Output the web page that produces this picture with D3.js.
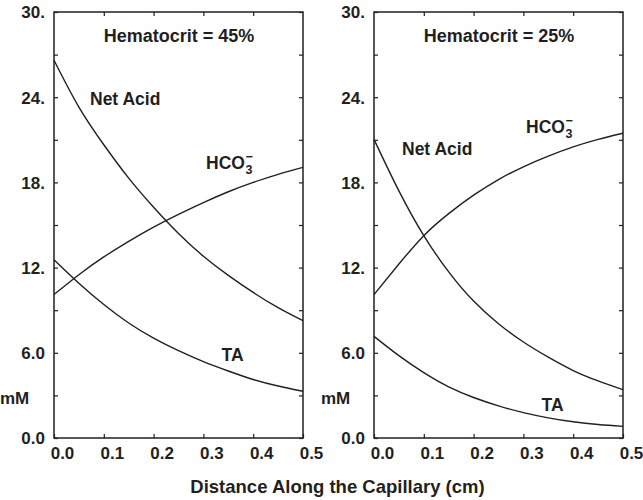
<!DOCTYPE html>
<html>
<head>
<meta charset="utf-8">
<script src="https://cdn.jsdelivr.net/npm/d3@7"></script>
<style>
  html, body { margin: 0; padding: 0; background: #fff; }
  svg text { font-family: "Liberation Sans", Arial, sans-serif; font-weight: bold; fill: #231f20; }
</style>
</head>
<body>
<svg id="chart" width="643" height="500"></svg>
<script>
// ---- data ----
const distance = [0, 0.05, 0.1, 0.15, 0.2, 0.25, 0.3, 0.35, 0.4, 0.45, 0.5];

const netAcid45 = [26.6, 23.3, 20.65, 18.3, 16.25, 14.4, 12.8, 11.45, 10.25, 9.18, 8.26];
const hco345    = [10.1, 11.5, 12.75, 13.85, 14.85, 15.75, 16.58, 17.34, 18.0, 18.57, 19.06];
const ta45      = [12.56, 10.9, 9.4, 8.1, 7.03, 6.15, 5.38, 4.72, 4.12, 3.66, 3.29];

const netAcid25 = [21.03, 17.4, 14.25, 11.7, 9.64, 8.05, 6.76, 5.69, 4.75, 4.02, 3.4];
const hco325    = [10.1, 12.25, 14.25, 15.8, 17.1, 18.2, 19.1, 19.85, 20.5, 21.03, 21.46];
const ta25      = [7.16, 5.8, 4.6, 3.6, 2.85, 2.26, 1.79, 1.42, 1.14, 0.95, 0.82];

const yTicks = [0, 6, 12, 18, 24, 30];
const yTickLabels = ["0.0", "6.0", "12.", "18.", "24.", "30."];
const yMinorTicks = [3, 9, 15, 21, 27];
const xTicks = [0, 0.1, 0.2, 0.3, 0.4, 0.5];
const xTickLabels = ["0.0", "0.1", "0.2", "0.3", "0.4", "0.5"];

const panelTitles = ["Hematocrit = 45%", "Hematocrit = 25%"];
const yAxisLabel = "mM";
const xAxisTitle = "Distance Along the Capillary (cm)";

// ---- layout ----
const svg = d3.select("#chart");
const ink = "#231f20";
const plotTop = 12, plotBottom = 438;

const panels = [
  { x0: 54, x1: 303, series: [netAcid45, hco345, ta45], title: panelTitles[0],
    labels: { net: [90, 105], hco: [206, 169.3], ta: [221.5, 361.3], mm: [0, 404] } },
  { x0: 374, x1: 623, series: [netAcid25, hco325, ta25], title: panelTitles[1],
    labels: { net: [402, 155], hco: [526, 133.3], ta: [541.5, 411.3], mm: [321, 404] } }
];

panels.forEach(p => {
  const x = d3.scaleLinear().domain([0, 0.5]).range([p.x0, p.x1]);
  const y = d3.scaleLinear().domain([0, 30]).range([plotBottom, plotTop]);
  const g = svg.append("g");

  const allY = yTicks.concat(yMinorTicks);
  const left = g.append("g").attr("transform", `translate(${p.x0},0)`)
    .call(d3.axisLeft(y).tickValues(yTicks).tickFormat((d, i) => yTickLabels[i])
      .tickSizeInner(-4).tickSizeOuter(0).tickPadding(9));
  left.select(".domain").remove();
  left.selectAll("text").style("font-size", "17px").attr("font-family", null).attr("dy", "0.35em");
  const leftMinor = g.append("g").attr("transform", `translate(${p.x0},0)`)
    .call(d3.axisLeft(y).tickValues(yMinorTicks).tickFormat("").tickSizeInner(-4).tickSizeOuter(0));
  leftMinor.select(".domain").remove();
  const right = g.append("g").attr("transform", `translate(${p.x1},0)`)
    .call(d3.axisRight(y).tickValues(allY).tickFormat("").tickSizeInner(-4).tickSizeOuter(0));
  right.select(".domain").remove();
  const topAx = g.append("g").attr("transform", `translate(0,${plotTop})`)
    .call(d3.axisTop(x).tickValues(xTicks.slice(1, -1)).tickFormat("").tickSizeInner(-4).tickSizeOuter(0));
  topAx.select(".domain").remove();
  const bot = g.append("g").attr("transform", `translate(0,${plotBottom})`)
    .call(d3.axisBottom(x).tickValues(xTicks).tickFormat((d, i) => xTickLabels[i])
      .tickSizeInner(-4).tickSizeOuter(0).tickPadding(9));
  bot.select(".domain").remove();
  bot.selectAll("text").style("font-size", "17px").attr("font-family", null)
    .attr("dx", 8).attr("dy", null).attr("y", 21);

  g.selectAll(".tick line").attr("stroke", ink).attr("stroke-width", 1.2);

  g.append("rect").attr("x", p.x0).attr("y", plotTop)
    .attr("width", p.x1 - p.x0).attr("height", plotBottom - plotTop)
    .attr("fill", "none").attr("stroke", ink).attr("stroke-width", 1.5);

  const line = d3.line().x((d, i) => x(distance[i])).y(d => y(d)).curve(d3.curveNatural);
  p.series.forEach(s => {
    g.append("path").datum(s).attr("d", line)
      .attr("fill", "none").attr("stroke", ink).attr("stroke-width", 1.4);
  });

  g.append("text").attr("x", (p.x0 + p.x1) / 2 + 0.5).attr("y", 41.5)
    .attr("text-anchor", "middle").style("font-size", "18px").text(p.title);

  g.append("text").attr("x", p.labels.net[0]).attr("y", p.labels.net[1])
    .style("font-size", "17.5px").text("Net Acid");
  g.append("text").attr("x", p.labels.ta[0]).attr("y", p.labels.ta[1])
    .style("font-size", "17.5px").text("TA");
  const h = g.append("text").attr("x", p.labels.hco[0]).attr("y", p.labels.hco[1])
    .style("font-size", "17.5px").text("HCO");
  const hw = h.node().getComputedTextLength();
  g.append("text").attr("x", p.labels.hco[0] + hw + 0.5).attr("y", p.labels.hco[1] + 5)
    .style("font-size", "12.5px").text("3");
  g.append("text").attr("x", p.labels.hco[0] + hw + 0.5).attr("y", p.labels.hco[1] - 8)
    .style("font-size", "12.5px").text("\u2212");

  g.append("text").attr("x", p.labels.mm[0]).attr("y", p.labels.mm[1])
    .style("font-size", "17px").text(yAxisLabel);
});

svg.append("text").attr("x", 337.5).attr("y", 493)
  .attr("text-anchor", "middle").style("font-size", "18.5px").text(xAxisTitle);
</script>
</body>
</html>
